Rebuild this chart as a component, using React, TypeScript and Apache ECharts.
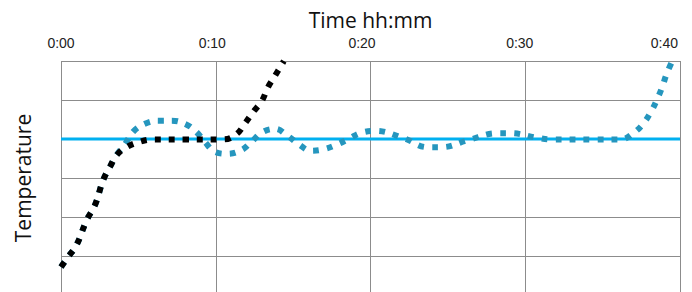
import React, { useEffect, useRef } from "react";
import * as echarts from "echarts";

// Time in minutes, temperature in grid units (0..6)
const xTickLabels = ["0:00", "0:10", "0:20", "0:30", "0:40"];
const setpoint = 4;

const blueTimes = [0, 0.47, 1.0, 1.66, 2.2, 2.73, 3.17, 3.6, 4.14, 4.67, 5.36, 6.25, 7.15, 8.06, 8.72, 9.31, 9.95, 10.79, 11.68, 12.32, 12.99, 13.83, 14.65, 15.38, 16.14, 17.0, 17.85, 18.67, 19.32, 20.3, 22.1, 23.7, 24.6, 26.3, 28.2, 29.0, 30.8, 31.6, 34.4, 36.2, 36.98, 37.6, 38.13, 38.5, 38.82, 39.14, 39.5];
const blueValues = [0.72, 0.98, 1.28, 1.92, 2.31, 2.95, 3.29, 3.59, 3.87, 4.19, 4.38, 4.47, 4.47, 4.38, 4.19, 3.92, 3.67, 3.62, 3.72, 3.93, 4.17, 4.26, 4.08, 3.86, 3.7, 3.74, 3.86, 4.02, 4.15, 4.21, 4.03, 3.79, 3.79, 3.97, 4.15, 4.15, 4.03, 3.99, 3.99, 3.99, 4.15, 4.38, 4.7, 5.0, 5.3, 5.67, 6.0];

const blackTimes = [0, 0.47, 1.0, 1.66, 2.2, 2.73, 3.17, 3.6, 4.28, 5.1, 5.95, 8, 10.53, 11.35, 11.89, 12.43, 12.97, 13.38, 13.83, 14.4];
const blackValues = [0.72, 0.98, 1.28, 1.92, 2.31, 2.95, 3.29, 3.59, 3.8, 3.93, 3.99, 3.99, 3.99, 4.13, 4.4, 4.7, 4.97, 5.33, 5.62, 6.0];

const setpointTimes = [0, 40];

export default function App() {
  const ref = useRef<HTMLDivElement>(null);
  useEffect(() => {
    document.body.style.margin = "0";
    const chart = echarts.init(ref.current!, null, { renderer: "svg" });
    const zip = (a: number[], b: number[]) => a.map((t, i) => [t, b[i]]);
    const tickFont = { fontFamily: "Liberation Sans", fontSize: 14, color: "#222" };
    const labelShift = [0, 7, 17, 11, 2];
    const rich: Record<string, any> = {};
    labelShift.forEach((p, i) => {
      rich["l" + i] = { ...tickFont, padding: [0, p, 0, 0] };
    });
    chart.setOption({
      animation: false,
      backgroundColor: "#ffffff",
      grid: { left: 61, top: 61, width: 619, height: 234, outerBoundsMode: "none", containLabel: false },
      xAxis: {
        type: "value",
        position: "top",
        min: 0,
        max: 40,
        interval: 10,
        name: "Time hh:mm",
        nameLocation: "middle",
        nameGap: 31,
        nameTextStyle: { fontFamily: "Open Sans", fontSize: 21, color: "#111" },
        axisLine: { show: false },
        axisTick: { show: false },
        axisLabel: {
          margin: 11,
          ...tickFont,
          alignMaxLabel: "right",
          formatter: (v: number) => {
            const i = Math.round(v / 10);
            return `{l${i}|${xTickLabels[i] ?? ""}}`;
          },
          rich,
        },
        splitLine: { show: true, lineStyle: { color: "#8c8c8c", width: 1 } },
      },
      yAxis: {
        type: "value",
        min: 0,
        max: 6,
        interval: 1,
        name: "Temperature",
        nameLocation: "middle",
        nameRotate: 90,
        nameGap: 28,
        nameTextStyle: { fontFamily: "Open Sans", fontSize: 21, color: "#111" },
        axisLine: { show: false },
        axisTick: { show: false },
        axisLabel: { show: false },
        splitLine: { show: true, lineStyle: { color: "#8c8c8c", width: 1 } },
      },
      series: [
        {
          type: "line",
          data: zip(setpointTimes, [setpoint, setpoint]),
          showSymbol: false,
          lineStyle: { color: "#00b0f0", width: 3 },
          z: 2,
        },
        {
          type: "line",
          data: zip(blueTimes, blueValues),
          smooth: 0.4,
          showSymbol: false,
          lineStyle: { color: "#2596be", width: 6, type: [6, 8], cap: "butt" },
          z: 3,
        },
        {
          type: "line",
          data: zip(blackTimes, blackValues),
          smooth: 0.4,
          showSymbol: false,
          lineStyle: { color: "#000000", width: 6, type: [6, 8], cap: "butt" },
          z: 4,
        },
      ],
    });
    return () => chart.dispose();
  }, []);
  return (
    <div
      ref={ref}
      style={{ position: "absolute", left: 0, top: 0, width: 692, height: 292 }}
    />
  );
}
